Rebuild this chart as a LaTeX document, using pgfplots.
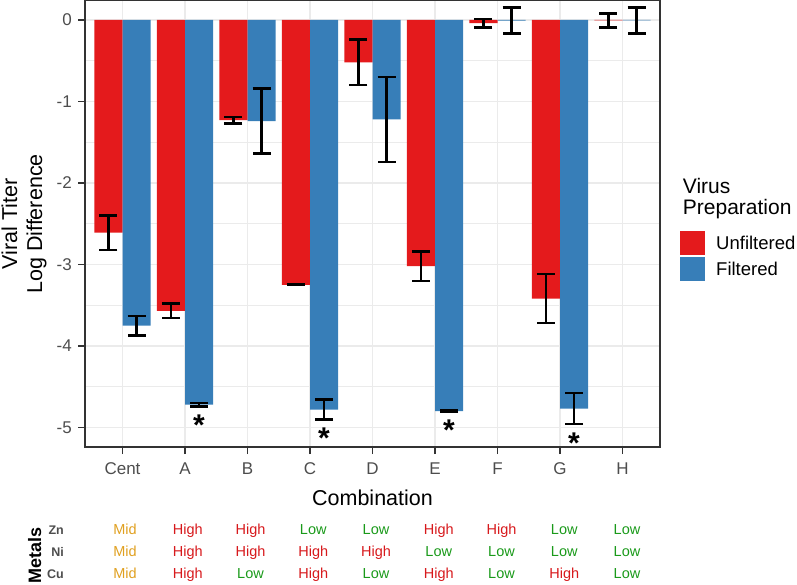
\documentclass[border=0pt]{standalone}
\usepackage{fontspec}
\setmainfont{Liberation Sans}
\usepackage{pgfplots}
\pgfplotsset{compat=1.18}
\definecolor{cred}{HTML}{E41A1C}
\definecolor{cblue}{HTML}{377EB8}
\definecolor{gridc}{HTML}{EBEBEB}
\definecolor{axc}{HTML}{333333}
\definecolor{tickc}{HTML}{4D4D4D}
\definecolor{cMid}{HTML}{E0A020}
\definecolor{cHigh}{HTML}{D7191C}
\definecolor{cLow}{HTML}{1A9A1A}
\pgfplotsset{mylegend/.style={legend image code/.code={\fill[##1, draw=none] (0pt,-12pt) rectangle (25pt,12pt);}},
 myerr/.style={forget plot, draw=none, mark=none,
  error bars/.cd, y dir=both, y explicit, error mark=|,
  error bar style={draw=black, line width=2.5pt},
  error mark options={draw=black, line width=2.5pt, mark size=9pt}}}
\newcommand{\cell}[3]{\node[anchor=base, inner sep=0pt, font=\fontsize{14.5}{16}\selectfont, text=c#2] at ({122+62.75*#1+3},#3) {#2};}
\begin{document}
\begin{tikzpicture}[x=1pt,y=1pt]
\begin{axis}[
 at={(85pt,137pt)}, anchor=south west,
 scale only axis, width=575pt, height=447pt,
 xmin=-0.6, xmax=8.6, ymin=-5.24, ymax=0.245,
 xtick={0,...,8}, xticklabels={Cent,A,B,C,D,E,F,G,H},
 ytick={-5,-4,-3,-2,-1,0}, yticklabels={-5,-4,-3,-2,-1,0},
 minor ytick={-4.5,-3.5,-2.5,-1.5,-0.5},
 xmajorgrids, ymajorgrids, yminorgrids,
 major grid style={gridc, line width=1.5pt},
 minor grid style={gridc, line width=0.8pt},
 axis line style={axc, line width=1.3pt},
 tick pos=left, tick align=outside, major tick length=7pt, minor tick length=0pt,
 major tick style={axc, line width=1.3pt},
 ticklabel style={font=\fontsize{17}{20}\selectfont, text=tickc, inner sep=0pt},
 xticklabel style={anchor=north, yshift=-8.7pt},
 yticklabel style={anchor=east, xshift=-6pt},
 legend style={at={(1.0348,0.4832)}, anchor=north west, draw=none, fill=none,
   inner sep=0pt, row sep=2pt, font=\fontsize{18.5}{22}\selectfont,
   nodes={inner sep=0pt, anchor=west},
   /tikz/every odd column/.append style={column sep=11pt}},
 legend cell align=left,
]
\addplot[ybar, bar width=0.45, bar shift=-0.225, fill=cred, draw=none, mylegend]
coordinates {(0,-2.61) (1,-3.57) (2,-1.23) (3,-3.25) (4,-0.52) (5,-3.02) (6,-0.04) (7,-3.42) (8,-0.005)};
\addlegendentry{Unfiltered}
\addplot[ybar, bar width=0.45, bar shift=0.225, fill=cblue, draw=none, mylegend]
coordinates {(0,-3.75) (1,-4.72) (2,-1.24) (3,-4.78) (4,-1.22) (5,-4.80) (6,-0.008) (7,-4.77) (8,-0.005)};
\addlegendentry{Filtered}
\addplot[myerr] coordinates {
(-0.225,-2.61) +- (0,0.21)
(0.775,-3.57) +- (0,0.09)
(1.775,-1.23) +- (0,0.04)
(2.775,-3.25) +- (0,0.005)
(3.775,-0.52) +- (0,0.28)
(4.775,-3.02) +- (0,0.18)
(5.775,-0.04) +- (0,0.05)
(6.775,-3.42) +- (0,0.30)
(7.775,-0.005) +- (0,0.085)
};
\addplot[myerr] coordinates {
(0.225,-3.75) +- (0,0.12)
(1.225,-4.72) +- (0,0.02)
(2.225,-1.24) +- (0,0.40)
(3.225,-4.78) +- (0,0.12)
(4.225,-1.22) +- (0,0.52)
(5.225,-4.80) +- (0,0.01)
(6.225,-0.008) +- (0,0.16)
(7.225,-4.77) +- (0,0.19)
(8.225,-0.005) +- (0,0.16)
};
\addplot[forget plot, draw=none, mark=none, nodes near coords={\textbf{*}},
  every node near coord/.append style={font=\fontsize{30}{32}\selectfont, text=black, anchor=center, inner sep=0pt, yshift=-4pt}]
coordinates {(1.225,-4.92) (3.225,-5.08) (5.225,-4.99) (7.225,-5.15)};
\end{axis}
\node[rotate=90, anchor=base, inner sep=0pt, font=\fontsize{21.5}{24}\selectfont] at (17,360) {Viral Titer};
\node[rotate=90, anchor=base, inner sep=0pt, font=\fontsize{21.5}{24}\selectfont] at (42,360) {Log Difference};
\node[anchor=base, inner sep=0pt, font=\fontsize{21.5}{24}\selectfont] at (372.5,79) {Combination};
\node[anchor=base west, inner sep=0pt, font=\fontsize{21}{24}\selectfont] at (682.7,390.7) {Virus};
\node[anchor=base west, inner sep=0pt, font=\fontsize{21}{24}\selectfont] at (682.7,369) {Preparation};
\node[rotate=90, anchor=base, inner sep=0pt, font=\bfseries\fontsize{18}{21}\selectfont] at (41,29) {Metals};
\node[anchor=base east, inner sep=0pt, font=\bfseries\fontsize{12.5}{14}\selectfont, text=tickc] at (64,50) {Zn};
\node[anchor=base east, inner sep=0pt, font=\bfseries\fontsize{12.5}{14}\selectfont, text=tickc] at (64,28) {Ni};
\node[anchor=base east, inner sep=0pt, font=\bfseries\fontsize{12.5}{14}\selectfont, text=tickc] at (64,6) {Cu};
\cell{0}{Mid}{50}\cell{1}{High}{50}\cell{2}{High}{50}\cell{3}{Low}{50}\cell{4}{Low}{50}\cell{5}{High}{50}\cell{6}{High}{50}\cell{7}{Low}{50}\cell{8}{Low}{50}
\cell{0}{Mid}{28}\cell{1}{High}{28}\cell{2}{High}{28}\cell{3}{High}{28}\cell{4}{High}{28}\cell{5}{Low}{28}\cell{6}{Low}{28}\cell{7}{Low}{28}\cell{8}{Low}{28}
\cell{0}{Mid}{6}\cell{1}{High}{6}\cell{2}{Low}{6}\cell{3}{High}{6}\cell{4}{Low}{6}\cell{5}{High}{6}\cell{6}{Low}{6}\cell{7}{High}{6}\cell{8}{Low}{6}
\pgfresetboundingbox
\path[use as bounding box] (0,0) rectangle (797,584);
\end{tikzpicture}
\end{document}
